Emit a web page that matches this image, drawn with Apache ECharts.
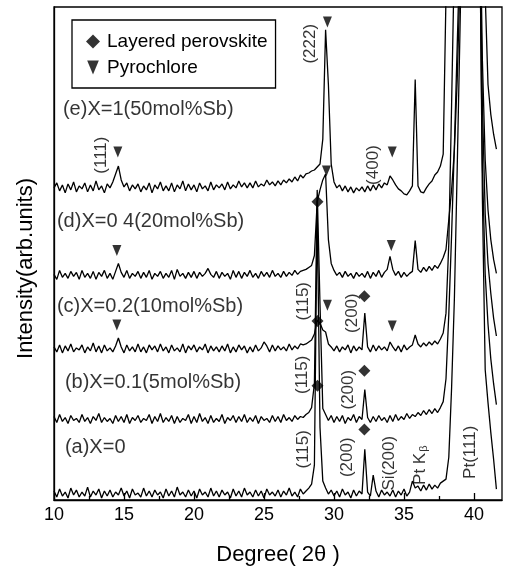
<!DOCTYPE html>
<html>
<head>
<meta charset="utf-8">
<script src="https://cdn.jsdelivr.net/npm/echarts@6/dist/echarts.min.js"></script>
<style>
  html, body { margin: 0; padding: 0; background: #fff; }
  #chart { width: 507px; height: 571px; }
</style>
</head>
<body>
<div id="chart"></div>
<script>
// 2θ sampling points (deg), one row = 2 deg
const twoTheta = [
  10.0, 10.2, 10.4, 10.6, 10.8, 11.0, 11.2, 11.4, 11.6, 11.8,
  12.0, 12.2, 12.4, 12.6, 12.8, 13.0, 13.2, 13.4, 13.6, 13.8,
  14.0, 14.2, 14.4, 14.6, 14.8, 15.0, 15.2, 15.4, 15.6, 15.8,
  16.0, 16.2, 16.4, 16.6, 16.8, 17.0, 17.2, 17.4, 17.6, 17.8,
  18.0, 18.2, 18.4, 18.6, 18.8, 19.0, 19.2, 19.4, 19.6, 19.8,
  20.0, 20.2, 20.4, 20.6, 20.8, 21.0, 21.2, 21.4, 21.6, 21.8,
  22.0, 22.2, 22.4, 22.6, 22.8, 23.0, 23.2, 23.4, 23.6, 23.8,
  24.0, 24.2, 24.4, 24.6, 24.8, 25.0, 25.2, 25.4, 25.6, 25.8,
  26.0, 26.2, 26.4, 26.6, 26.8, 27.0, 27.2, 27.4, 27.6, 27.8,
  28.0, 28.2, 28.4, 28.6, 28.8, 29.0, 29.2, 29.4, 29.6, 29.8,
  30.0, 30.2, 30.4, 30.6, 30.8, 31.0, 31.2, 31.4, 31.6, 31.8,
  32.0, 32.2, 32.4, 32.6, 32.8, 33.0, 33.2, 33.4, 33.6, 33.8,
  34.0, 34.2, 34.4, 34.6, 34.8, 35.0, 35.2, 35.4, 35.6, 35.8,
  36.0, 36.2, 36.4, 36.6, 36.8, 37.0, 37.2, 37.4, 37.6, 37.8,
  38.0, 38.2, 38.4, 38.6, 38.8, 39.0, 39.2, 39.4, 39.6, 39.8,
  40.0, 40.2, 40.4, 40.6, 40.8, 41.0, 41.2, 41.4, 41.6
];

// intensities above each pattern's own baseline (arb. units), Pt(111) runs off scale
const traceA = [
  9, 3, 11, 4, 8, 2, 12, 5, 10, 3,
  8, 4, 13, 3, 9, 5, 11, 2, 9, 4,
  10, 3, 8, 5, 12, 4, 9, 2, 11, 5,
  7, 3, 12, 4, 9, 3, 10, 5, 8, 2,
  11, 4, 9, 3, 13, 5, 8, 3, 10, 4,
  9, 2, 11, 5, 8, 3, 12, 4, 9, 3,
  10, 5, 8, 2, 11, 4, 9, 3, 12, 5,
  8, 3, 10, 4, 9, 2, 11, 5, 8, 4,
  10, 3, 9, 5, 12, 4, 8, 3, 11, 6,
  9, 12, 16, 35, 293, 73, 19, 12, 6, 10,
  4, 9, 3, 11, 5, 8, 2, 10, 4, 9,
  6, 51, 8, 4, 25, 9, 3, 10, 5, 8,
  4, 10, 3, 9, 5, 11, 4, 8, 19, 12,
  14, 9, 15, 10, 16, 11, 15, 12, 17, 19,
  21, 43, 113, 203, 333, 473, 623, 1000, 1000, 1000,
  1000, 1000, 603, 303, 131, 98, 68, 41, 11
];
const traceB = [
  10, 4, 12, 5, 9, 3, 11, 6, 8, 4,
  12, 5, 9, 3, 10, 6, 13, 4, 9, 5,
  8, 3, 11, 5, 10, 4, 12, 3, 9, 6,
  11, 4, 8, 6, 12, 3, 10, 5, 13, 4,
  9, 5, 11, 3, 10, 4, 8, 6, 12, 3,
  10, 4, 13, 5, 9, 3, 11, 4, 8, 5,
  12, 3, 9, 6, 11, 4, 10, 5, 12, 4,
  9, 5, 11, 3, 10, 6, 8, 4, 11, 5,
  10, 4, 12, 6, 9, 5, 11, 7, 10, 9,
  12, 14, 19, 43, 238, 123, 18, 12, 6, 11,
  4, 10, 5, 11, 3, 9, 6, 12, 4, 10,
  7, 37, 9, 4, 10, 5, 11, 6, 9, 4,
  11, 5, 12, 6, 10, 7, 13, 8, 12, 10,
  14, 11, 16, 12, 17, 13, 18, 14, 19, 25,
  48, 113, 193, 283, 383, 483, 1000, 1000, 1000, 1000,
  1000, 1000, 503, 263, 153, 103, 68, 43, 22
];
const traceC = [
  9, 4, 11, 3, 10, 5, 12, 4, 8, 6,
  11, 3, 9, 5, 13, 4, 10, 3, 11, 5,
  8, 4, 10, 18, 9, 3, 11, 5, 9, 4,
  12, 4, 9, 3, 11, 6, 10, 4, 12, 5,
  9, 3, 11, 5, 8, 4, 12, 3, 10, 6,
  11, 4, 9, 6, 12, 3, 10, 5, 9, 4,
  10, 5, 12, 3, 9, 4, 11, 6, 10, 3,
  9, 4, 11, 5, 8, 14, 10, 4, 11, 5,
  10, 6, 9, 5, 12, 6, 10, 7, 12, 11,
  12, 14, 16, 22, 36, 33, 26, 24, 12, 9,
  5, 10, 4, 9, 6, 11, 3, 10, 5, 9,
  6, 43, 9, 4, 11, 5, 10, 6, 9, 5,
  14, 9, 5, 10, 4, 11, 6, 9, 11, 21,
  12, 9, 13, 10, 14, 11, 15, 12, 17, 23,
  43, 113, 253, 403, 1000, 1000, 1000, 1000, 1000, 1000,
  1000, 1000, 453, 253, 143, 93, 63, 38, 20
];
const traceD = [
  8, 3, 12, 5, 9, 4, 11, 6, 10, 3,
  12, 5, 9, 4, 11, 3, 10, 6, 12, 4,
  9, 3, 11, 19, 10, 5, 12, 4, 9, 6,
  11, 4, 10, 5, 12, 3, 9, 6, 11, 4,
  9, 5, 12, 3, 13, 6, 9, 4, 10, 5,
  11, 4, 10, 6, 9, 14, 8, 5, 11, 4,
  10, 6, 9, 3, 12, 5, 11, 4, 10, 6,
  12, 5, 9, 4, 11, 6, 10, 5, 12, 6,
  9, 5, 11, 6, 10, 7, 12, 8, 11, 12,
  13, 15, 17, 27, 81, 93, 103, 109, 43, 19,
  12, 7, 10, 5, 11, 6, 9, 4, 10, 6,
  9, 5, 11, 4, 10, 6, 12, 5, 10, 13,
  26, 13, 7, 11, 5, 10, 6, 9, 11, 42,
  13, 10, 15, 11, 16, 12, 17, 14, 19, 25,
  33, 63, 93, 133, 203, 303, 1000, 1000, 1000, 1000,
  1000, 1000, 403, 223, 123, 73, 43, 23, 9
];
const traceE = [
  9, 14, 6, 12, 4, 13, 7, 15, 5, 11,
  8, 14, 5, 12, 6, 16, 7, 11, 4, 13,
  9, 15, 23, 31, 17, 10, 14, 6, 12, 8,
  13, 5, 11, 7, 14, 4, 12, 8, 15, 6,
  11, 6, 14, 5, 12, 8, 16, 6, 13, 7,
  12, 5, 14, 8, 11, 6, 15, 7, 12, 9,
  13, 7, 15, 8, 12, 9, 16, 10, 14, 9,
  14, 9, 16, 10, 13, 11, 17, 12, 15, 11,
  16, 12, 17, 14, 18, 15, 20, 16, 22, 19,
  23, 24, 26, 27, 30, 33, 58, 168, 113, 33,
  15, 9, 12, 6, 11, 5, 10, 4, 9, 6,
  10, 5, 11, 6, 12, 7, 13, 9, 14, 12,
  21, 17, 12, 8, 6, 3, 2, 6, 11, 118,
  11, 5, 4, 9, 13, 16, 22, 25, 31, 43,
  203, 403, 1000, 1000, 1000, 1000, 1000, 1000, 1000, 1000,
  1000, 1000, 1000, 403, 203, 113, 83, 63, 48
];

// vertical shift of each pattern in the stack: a, b, c, d, e
const traceOffsets = [0, 74, 145, 219, 305];
const traceNames = ['(a)X=0', '(b)X=0.1(5mol%Sb)', '(c)X=0.2(10mol%Sb)', '(d)X=0 4(20mol%Sb)', '(e)X=1(50mol%Sb)'];
const traceNameAt = [[10.78, 53], [10.78, 118], [10.21, 195], [10.21, 280], [10.64, 393]];

// phase markers [2θ, intensity]
const perovskiteMarks = [[28.82, 300], [28.82, 180], [32.17, 205], [28.82, 115], [32.17, 130], [32.17, 71]];
const pyrochloreMarks = [
  [14.56, 350], [29.53, 481], [34.16, 350], [29.46, 331],
  [14.49, 251], [34.09, 256], [14.49, 176], [29.53, 196], [34.16, 175]
];

// reflection labels [2θ, intensity, text]
const peakLabels = [
  [13.35, 347, '(111)'], [28.32, 459, '(222)'], [32.81, 337, '(400)'],
  [27.82, 200, '(115)'], [31.31, 188, '(200)'],
  [27.75, 126, '(115)'], [31.03, 111, '(200)'],
  [27.82, 51, '(115)'], [30.95, 43, '(200)'], [33.95, 37, 'Si(200)'],
  [36.16, 35, 'Pt K{s|β}'], [39.72, 48, 'Pt(111)']
];

const FONT = '"Liberation Sans", Arial, sans-serif';
const TRIANGLE_DOWN = 'path://M0,0L10,0L5,12Z';

const chart = echarts.init(document.getElementById('chart'));

const traces = [traceA, traceB, traceC, traceD, traceE];
const patternSeries = traces.map((vals, k) => ({
  name: traceNames[k],
  type: 'line',
  data: twoTheta.map((t, i) => [t, vals[i] + traceOffsets[k]]),
  showSymbol: false,
  symbol: 'none',
  clip: true,
  silent: true,
  lineStyle: { color: '#000', width: 1.3 }
}));

const option = {
  animation: false,
  backgroundColor: '#fff',
  grid: { left: 54, right: 5, top: 7, bottom: 68, show: true, borderColor: '#000', borderWidth: 1.3 },
  legend: {
    left: 72,
    top: 20,
    orient: 'vertical',
    selectedMode: false,
    data: [
      { name: 'Layered perovskite', icon: 'diamond' },
      { name: 'Pyrochlore', icon: TRIANGLE_DOWN }
    ],
    itemWidth: 14,
    itemHeight: 14,
    itemGap: 7,
    padding: [12, 8, 11, 14],
    borderColor: '#000',
    borderWidth: 1.3,
    textStyle: { fontFamily: FONT, fontSize: 19, color: '#000', padding: [0, 0, 0, 2] }
  },
  xAxis: [{
    type: 'value',
    min: 10,
    max: 42,
    interval: 5,
    position: 'bottom',
    axisLine: { lineStyle: { color: '#000', width: 1.3 } },
    axisTick: { inside: true, length: 7, lineStyle: { color: '#000', width: 1.3 } },
    axisLabel: { color: '#000', fontFamily: FONT, fontSize: 18, margin: 6, showMaxLabel: false },
    splitLine: { show: false },
    name: 'Degree( 2θ )',
    nameLocation: 'middle',
    nameGap: 44,
    nameTextStyle: { color: '#000', fontFamily: FONT, fontSize: 22 }
  }, {
    // minor ticks
    type: 'value',
    min: 10,
    max: 42,
    position: 'bottom',
    axisLine: { show: false },
    axisTick: { inside: true, length: 4, customValues: [12.5, 17.5, 22.5, 27.5, 32.5, 37.5], lineStyle: { color: '#000', width: 1.3 } },
    axisLabel: { show: false },
    splitLine: { show: false }
  }],
  yAxis: {
    type: 'value',
    min: 0,
    max: 496,
    axisLine: { show: true, lineStyle: { color: '#000', width: 1.3 } },
    axisTick: { show: false },
    axisLabel: { show: false },
    splitLine: { show: false },
    name: 'Intensity(arb.units)',
    nameLocation: 'middle',
    nameGap: 17,
    nameTextStyle: { color: '#000', fontFamily: FONT, fontSize: 22, padding: [0, 30, 0, 0] }
  },
  series: [
    ...patternSeries,
    {
      name: 'Layered perovskite',
      type: 'scatter',
      symbol: 'diamond',
      symbolSize: 12,
      itemStyle: { color: '#000' },
      silent: true,
      data: perovskiteMarks
    },
    {
      name: 'Pyrochlore',
      type: 'scatter',
      symbol: TRIANGLE_DOWN,
      symbolSize: [9, 11],
      itemStyle: { color: '#000' },
      silent: true,
      data: pyrochloreMarks
    },
    {
      name: 'peak labels',
      type: 'scatter',
      symbolSize: 0,
      silent: true,
      label: {
        show: true,
        position: 'inside',
        rotate: 90,
        color: '#000',
        fontFamily: FONT,
        fontSize: 17,
        rich: { s: { fontFamily: FONT, fontSize: 11, color: '#000', padding: [8, 0, 0, 1] } }
      },
      data: peakLabels.map(p => ({ value: [p[0], p[1]], label: { formatter: p[2] } }))
    },
    {
      name: 'pattern labels',
      type: 'scatter',
      symbolSize: 0,
      silent: true,
      label: {
        show: true,
        position: 'right',
        distance: 0,
        color: '#000',
        fontFamily: FONT,
        fontSize: 20
      },
      data: traceNameAt.map((p, k) => ({ value: p, label: { formatter: traceNames[k] } }))
    }
  ]
};

chart.setOption(option);
</script>
</body>
</html>
